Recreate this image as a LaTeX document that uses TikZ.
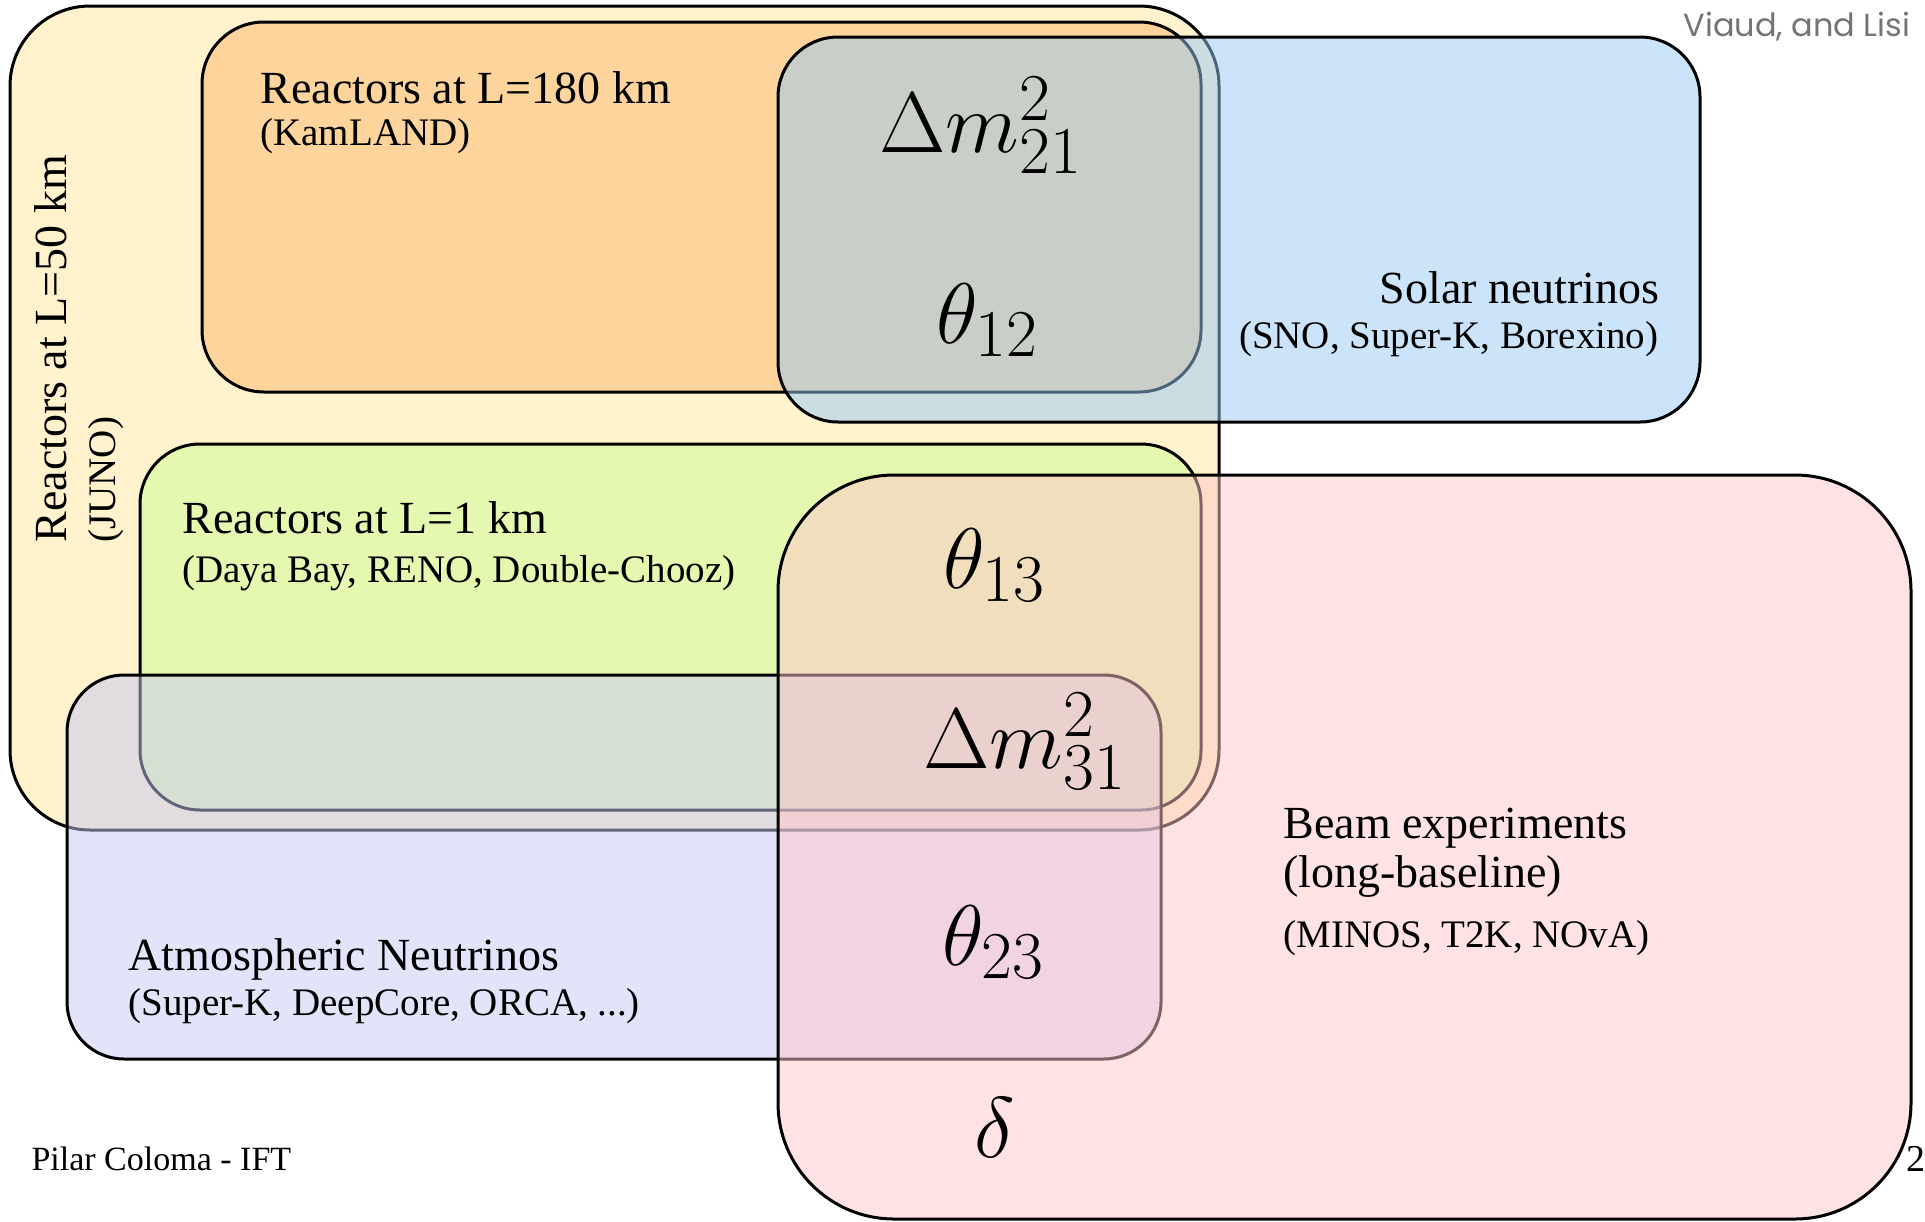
\RequirePackage{fix-cm}
\documentclass[tikz,border=0pt]{standalone}
\usepackage[no-math]{fontspec}
\setmainfont{Liberation Serif}
\newfontfamily\handfont{Poppins}
\DeclareMathSizes{86}{86}{67}{50}
\definecolor{junoC}{HTML}{FFF2CC}
\definecolor{kamC}{HTML}{FDD49B}
\definecolor{solarC}{HTML}{99C9F5}
\definecolor{greenC}{HTML}{E4F8B0}
\definecolor{atmC}{HTML}{C7C7F5}
\definecolor{beamC}{HTML}{FFC5C9}
\definecolor{citeC}{HTML}{747474}
\begin{document}
\begin{tikzpicture}[x=1pt,y=-1pt,line width=3pt,line join=round,
  venn/.style={draw=black,line width=3pt},
  lab/.style={inner sep=0pt,anchor=base west,font=\fontsize{46}{49}\selectfont},
  sublab/.style={inner sep=0pt,anchor=base west,font=\fontsize{39}{42}\selectfont},
  param/.style={inner sep=0pt,anchor=base west,font=\fontsize{86}{90}\selectfont}]
\useasboundingbox (0,0) rectangle (1925,1221);
\clip (0,0) rectangle (1925,1221);
% boxes
\filldraw[venn,fill=junoC,rounded corners=80pt] (10,6) rectangle (1219,830);
\filldraw[venn,fill=kamC,rounded corners=62pt] (202,22) rectangle (1201,392);
\filldraw[venn,fill=solarC,fill opacity=.5,rounded corners=60pt] (778,37) rectangle (1700,422);
\filldraw[venn,fill=greenC,rounded corners=60pt] (140,444) rectangle (1201,810);
\filldraw[venn,fill=atmC,fill opacity=.5,rounded corners=57pt] (67,675) rectangle (1161,1059);
\filldraw[venn,fill=beamC,fill opacity=.5,rounded corners=116pt] (778,475) rectangle (1911,1219);
% labels
\node[lab] (kam1) at (259,103) {Reactors at L=180 km};
\node[sublab] (kam2) at (259,145) {(KamLAND)};
\node[lab,rotate=90] (juno1) at (66,544) {Reactors at L=50 km};
\node[sublab,rotate=90] (juno2) at (115,544) {(JUNO)};
\node[lab,anchor=base east] (sol1) at (1661,303) {Solar neutrinos};
\node[sublab,anchor=base east] (sol2) at (1660,348) {(SNO, Super-K, Borexino)};
\node[lab] (dy1) at (181,533) {Reactors at L=1 km};
\node[sublab] (dy2) at (181,582) {(Daya Bay, RENO, Double-Chooz)};
\node[lab] (at1) at (127,970) {Atmospheric Neutrinos};
\node[sublab] (at2) at (127,1015) {(Super-K, DeepCore, ORCA, ...)};
\node[lab] (bm1) at (1282,838) {Beam experiments};
\node[lab] (bm2) at (1282,887) {(long-baseline)};
\node[sublab] (bm3) at (1282,947) {(MINOS, T2K, NOvA)};
% parameters
\node[param] (dm21) at (878,152) {$\Delta m^2_{21}$};
\node[param] (t12) at (935,343) {$\theta_{12}$};
\node[param] (t13) at (942,588) {$\theta_{13}$};
\node[param] (dm31) at (922,768) {$\Delta m^2_{31}$};
\node[param] (t23) at (941,965) {$\theta_{23}$};
\node[param] (dl) at (973,1157) {$\delta$};
% footer
\node[inner sep=0pt,anchor=base west,font=\fontsize{34}{36}\selectfont] (auth) at (30,1170) {Pilar Coloma - IFT};
\node[inner sep=0pt,anchor=base west,font=\fontsize{38}{40}\selectfont] (pg) at (1905,1171) {2};
\node[inner sep=0pt,anchor=base west,text=citeC,font=\fontsize{32}{34}\handfont] (cite) at (1682,36) {Viaud, and Lisi};
\end{tikzpicture}
\end{document}
